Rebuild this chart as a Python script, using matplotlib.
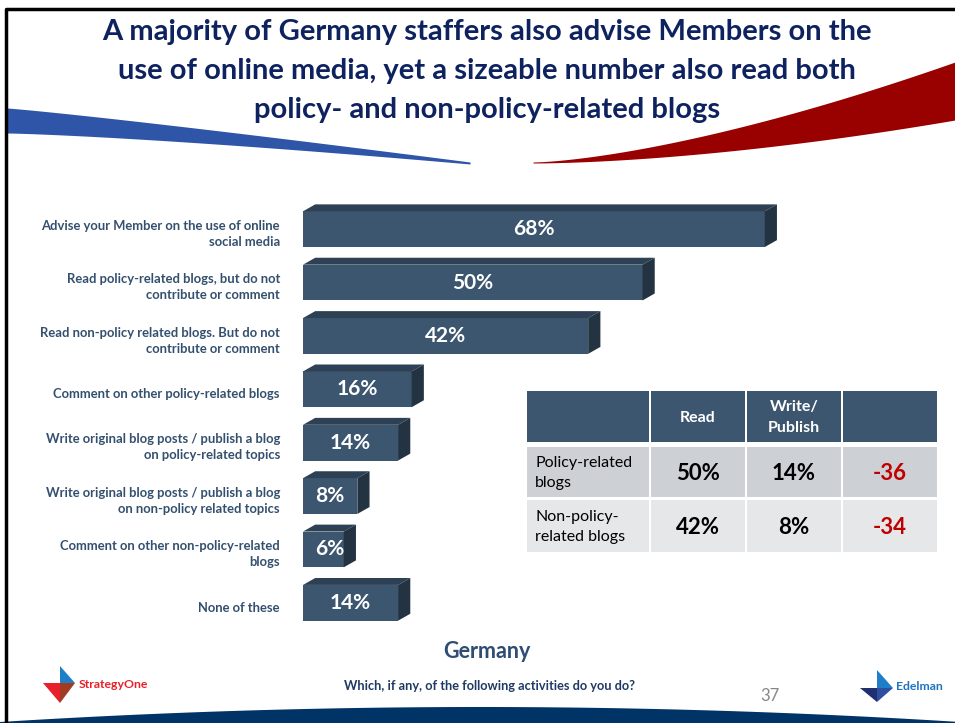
import numpy as np
import matplotlib
matplotlib.use("Agg")
import matplotlib.pyplot as plt
from matplotlib.patches import Polygon, Rectangle

plt.rcParams['font.family'] = ['Lato', 'DejaVu Sans']

# Bar chart data
categories = [
    "Advise your Member on the use of online\nsocial media",
    "Read policy-related blogs, but do not\ncontribute or comment",
    "Read non-policy related blogs. But do not\ncontribute or comment",
    "Comment on other policy-related blogs",
    "Write original blog posts / publish a blog\non policy-related topics",
    "Write original blog posts / publish a blog\non non-policy related topics",
    "Comment on other non-policy-related\nblogs",
    "None of these",
]
values = [68, 50, 42, 16, 14, 8, 6, 14]

# Comparison table
table_cols = ["", "Read", "Write/\nPublish", ""]
table_rows = ["Policy-related\nblogs", "Non-policy-\nrelated blogs"]
table_read = ["50%", "42%"]
table_write = ["14%", "8%"]
table_diff = ["-36", "-34"]

title = ("A majority of Germany staffers also advise Members on the\n"
         "use of online media, yet a sizeable number also read both\n"
         "policy- and non-policy-related blogs")

W, H = 955, 723
FRONT = "#3D5670"
TOP = "#2E4154"
SIDE = "#243342"
NAVY = "#0E2260"
LABEL = "#34506F"

fig = plt.figure(figsize=(W / 100, H / 100), dpi=100)

# background canvas in pixel units
bg = fig.add_axes([0, 0, 1, 1])
bg.set_xlim(0, W)
bg.set_ylim(H, 0)
bg.axis("off")

# slide frame
bg.plot([6, 6, W], [H, 9, 9], color="black", lw=2.5)

# swooshes
t = np.linspace(0, 1, 80)
xb = 7 + 463 * t
bg.fill_between(xb, 108 + 54 * t ** 1.1, 133 + 31 * t ** 1.3,
                color="#2E55A8", lw=0)
xr = 533 + 422 * t
bg.fill_between(xr, 162 - 100 * t ** 1.48, 163 - 43 * t ** 1.67,
                color="#990000", lw=0)

# bottom arc
xa = np.linspace(0, W, 100)
ya = 722 - 15 * (1 - ((xa - 480) / 480) ** 2)
bg.fill_between(xa, ya, H, color="#003366", lw=0)

bg.text(487, 71, title, ha="center", va="center", fontsize=21,
        fontweight="bold", color=NAVY, linespacing=1.62)

# bar chart axes: x in percent, y in category index
ax = fig.add_axes([303 / W, 1 - 629.5 / H, 679 / W, 427 / H])
ax.set_xlim(0, 100)
ax.set_ylim(len(values) - 0.5, -0.5)
ax.axis("off")

bh = 0.67
dx = 1.8
dy = 0.13
ypos = np.arange(len(values))
ax.barh(ypos, values, height=bh, color=FRONT, edgecolor="none")
for y, v in zip(ypos, values):
    top = [(0, y - bh / 2), (v, y - bh / 2), (v + dx, y - bh / 2 - dy),
           (dx, y - bh / 2 - dy)]
    side = [(v, y - bh / 2), (v + dx, y - bh / 2 - dy),
            (v + dx, y + bh / 2 - dy), (v, y + bh / 2)]
    ax.add_patch(Polygon(top, closed=True, color=TOP, lw=0))
    ax.add_patch(Polygon(side, closed=True, color=SIDE, lw=0))
    ax.text(max(v / 2, 4), y, f"{v}%", ha="center", va="center",
            color="white", fontsize=15, fontweight="bold")

for y, lab in zip(ypos, categories):
    ax.text(-3.4, y + 0.09, lab, ha="right", va="center", fontsize=9.4,
            fontweight="bold", color=LABEL, linespacing=1.4,
            clip_on=False)

# table
col_x = [527, 651, 747, 843]
col_w = [122, 94, 94, 94]
head_y, head_h = 391, 51
row_y = [447, 500]
row_h = [50, 52]
bg_rows = ["#CDD0D4", "#E6E7E9"]
for cx, cw, lab in zip(col_x, col_w, table_cols):
    bg.add_patch(Rectangle((cx, head_y), cw, head_h, color="#3D5670", lw=0))
    if lab:
        bg.text(cx + cw / 2, head_y + head_h / 2 + 1, lab, ha="center",
                va="center", color="white", fontsize=11.5, fontweight="bold",
                linespacing=1.6)
for i in range(len(table_rows)):
    cells = [table_rows[i], table_read[i], table_write[i], table_diff[i]]
    for j, (cx, cw) in enumerate(zip(col_x, col_w)):
        bg.add_patch(Rectangle((cx, row_y[i]), cw, row_h[i],
                               color=bg_rows[i], lw=0))
        cyy = row_y[i] + row_h[i] / 2 + 1
        if j == 0:
            bg.text(cx + 8, cyy, cells[j], ha="left", va="center",
                    fontsize=11.5, color="black", linespacing=1.55)
        else:
            bg.text(cx + cw / 2, cyy, cells[j], ha="center", va="center",
                    fontsize=16, fontweight="bold",
                    color="#C00000" if j == 3 else "black")

# footer
bg.text(487, 651, "Germany", ha="center", va="center", fontsize=15.5,
        fontweight="bold", color="#2E4D74")
bg.text(489, 686, "Which, if any, of the following activities do you do?",
        ha="center", va="center", fontsize=9.2, fontweight="bold",
        color="#1F3A64")
bg.text(770, 696, "37", ha="center", va="center", fontsize=12,
        color="#888888")

# StrategyOne logo
bg.add_patch(Polygon([(60, 666), (60, 683), (75, 683)], color="#1E7FC8", lw=0))
bg.add_patch(Polygon([(43, 683), (60, 683), (60, 703)], color="#E8202A", lw=0))
bg.add_patch(Polygon([(60, 683), (75, 683), (60, 703)], color="#A33A24", lw=0))
bg.text(79, 684, "StrategyOne", ha="left", va="center", fontsize=8.8,
        fontweight="bold", color="#E8202A")

# Edelman logo
bg.add_patch(Polygon([(877, 670), (877, 688), (893, 688)], color="#1E7FC8", lw=0))
bg.add_patch(Polygon([(860, 688), (877, 688), (877, 702)], color="#1F2F70", lw=0))
bg.add_patch(Polygon([(877, 688), (893, 688), (877, 702)], color="#2C4FA0", lw=0))
bg.text(896, 687, "Edelman", ha="left", va="center", fontsize=8.8,
        fontweight="bold", color="#1E73C0")

fig.savefig("out.png", dpi=100)
